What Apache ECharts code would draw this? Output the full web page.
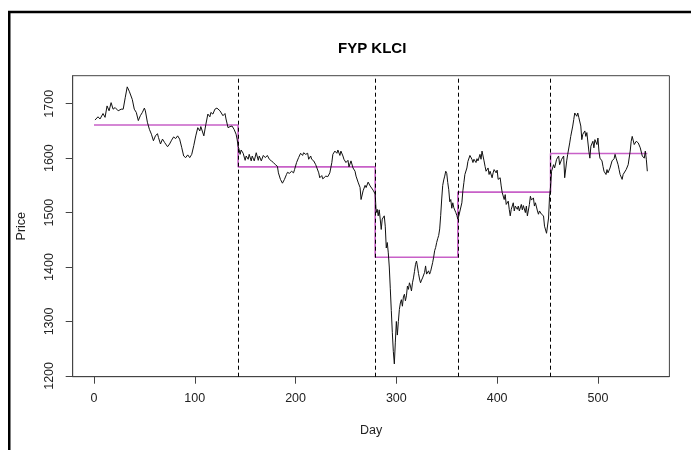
<!DOCTYPE html>
<html>
<head>
<meta charset="utf-8">
<script src="https://cdn.jsdelivr.net/npm/echarts@6/dist/echarts.min.js"></script>
<style>
html,body{margin:0;padding:0;background:#fff;}
#chart{width:691px;height:450px;}
</style>
</head>
<body>
<div id="chart"></div>
<script>
// ---- data ----
const titleText = 'FYP KLCI';
const xName = 'Day';
const yName = 'Price';
const xTicks = [0, 100, 200, 300, 400, 500];
const yTicks = [1200, 1300, 1400, 1500, 1600, 1700];
const breakDays = [143, 279, 361, 453];
const segStart = [0, 143, 279, 361, 453];
const segEnd = [143, 279, 361, 453, 549];
const segMeans = [1661, 1584, 1418, 1537.6, 1608.6];

const seg1 = [[1,1670],[4,1676],[6,1672],[9,1682],[11,1675],[13,1696],[15,1687],[17,1702],[19,1690],[21,1693],[24,1687],[27,1690],[29,1690],[31,1711],[33,1731],[35,1723],[38,1708],[40,1690],[42,1684],[44,1669],[46,1678],[48,1684],[50,1692],[51,1687],[53,1666],[55,1653],[57,1644],[59,1632],[61,1641],[63,1645],[64,1638],[66,1626],[68,1635],[70,1629],[73,1621],[75,1626],[77,1633],[79,1639],[81,1636],[83,1641],[85,1635],[87,1620],[89,1604],[91,1601],[93,1606],[95,1601],[97,1607],[99,1623],[101,1641],[103,1656],[105,1650],[106,1658],[109,1641],[111,1662],[113,1681],[115,1676],[116,1684],[118,1681],[120,1690],[122,1692],[125,1687],[126,1686],[128,1678],[130,1682],[131,1672],[133,1656],[135,1658],[137,1659],[139,1653],[141,1644],[142,1635]];
const seg2 = [[143,1622],[144,1616],[145,1607],[146,1615],[148,1609],[150,1596],[151,1604],[153,1598],[154,1607],[156,1595],[157,1604],[159,1595],[161,1610],[163,1596],[164,1604],[166,1595],[168,1605],[170,1601],[172,1605],[174,1598],[176,1595],[178,1592],[180,1588],[182,1585],[183,1573],[185,1561],[187,1554],[189,1561],[191,1570],[192,1574],[194,1572],[196,1576],[198,1573],[199,1579],[201,1592],[203,1601],[205,1609],[207,1605],[208,1610],[210,1607],[212,1609],[213,1598],[215,1604],[216,1598],[218,1595],[220,1588],[221,1585],[223,1573],[224,1564],[226,1568],[227,1562],[230,1567],[232,1566],[234,1573],[236,1592],[237,1607],[239,1613],[241,1609],[242,1615],[244,1605],[245,1613],[247,1604],[248,1598],[250,1592],[252,1596],[253,1584],[255,1595],[257,1582],[259,1576],[260,1567],[262,1556],[264,1546],[265,1524],[267,1540],[269,1550],[270,1546],[272,1556],[274,1549],[275,1546],[277,1541],[279,1534]];
const seg3 = [[280,1500],[281,1506],[282,1494],[283,1505],[284,1488],[285,1469],[286,1488],[288,1494],[289,1475],[290,1435],[291,1445],[292,1426],[293,1400],[294,1360],[295,1320],[296,1280],[297,1245],[298,1222],[299,1262],[300,1300],[301,1275],[302,1300],[303,1322],[304,1334],[305,1340],[306,1328],[307,1345],[308,1350],[309,1338],[310,1347],[311,1365],[312,1359],[313,1371],[314,1365],[315,1356],[316,1371],[317,1380],[318,1392],[319,1405],[320,1411],[321,1400],[322,1388],[323,1378],[324,1371],[325,1376],[326,1380],[327,1381],[328,1390],[329,1402],[330,1387],[331,1384],[332,1393],[333,1387],[334,1392],[335,1400],[336,1408],[337,1418],[338,1430],[339,1436],[340,1445],[341,1452],[342,1458],[343,1470],[344,1495],[345,1525],[346,1550],[347,1560],[348,1567],[349,1576],[350,1572],[351,1555],[352,1542],[353,1520],[354,1524],[355,1508],[356,1518],[357,1509],[358,1512],[359,1500],[360,1495],[361,1488]];
const seg4 = [[362,1494],[363,1497],[365,1518],[366,1540],[367,1555],[368,1570],[370,1582],[371,1594],[373,1605],[375,1598],[376,1592],[377,1598],[379,1592],[380,1599],[381,1595],[383,1607],[384,1598],[385,1613],[387,1595],[388,1585],[389,1576],[391,1582],[392,1570],[393,1576],[395,1564],[396,1573],[397,1579],[399,1573],[400,1578],[401,1561],[403,1564],[404,1549],[405,1537],[407,1524],[408,1533],[409,1515],[411,1521],[412,1506],[413,1494],[414,1506],[416,1518],[417,1503],[418,1512],[420,1506],[421,1512],[422,1503],[424,1515],[425,1505],[426,1513],[428,1500],[429,1512],[430,1494],[432,1515],[433,1530],[434,1523],[436,1527],[437,1512],[438,1518],[440,1503],[441,1497],[442,1503],[444,1497],[445,1500],[446,1494],[447,1475],[448,1472],[449,1462],[450,1465],[451,1490],[452,1530],[453,1548]];
const seg5 = [[454,1576],[456,1588],[457,1582],[459,1598],[461,1604],[462,1588],[464,1598],[466,1604],[467,1564],[469,1595],[470,1607],[472,1628],[473,1640],[475,1659],[476,1671],[477,1683],[479,1677],[480,1683],[481,1675],[483,1659],[484,1634],[485,1644],[487,1650],[488,1640],[489,1647],[491,1613],[492,1600],[493,1622],[495,1631],[496,1619],[497,1634],[499,1625],[500,1637],[501,1613],[502,1600],[504,1595],[505,1585],[506,1576],[508,1570],[509,1579],[510,1573],[512,1582],[513,1585],[514,1595],[516,1599],[517,1607],[518,1600],[520,1588],[521,1579],[522,1570],[524,1561],[525,1570],[526,1567],[528,1579],[529,1576],[530,1588],[532,1613],[533,1631],[534,1640],[536,1625],[537,1622],[538,1631],[540,1628],[541,1625],[542,1619],[544,1604],[545,1607],[546,1600],[547,1613],[548,1598],[549,1576]];

// ---- build ----
const priceData = seg1.concat(seg2, seg3, seg4, seg5);
const meanData = [];
for (let i = 0; i < segMeans.length; i++) {
  meanData.push([segStart[i], segMeans[i]]);
  meanData.push([segEnd[i], segMeans[i]]);
}
const FONT = "'Liberation Sans', Arial, Helvetica, sans-serif";
const axisCol = '#444';
const textCol = '#222';
const plain = v => String(v);

const chart = echarts.init(document.getElementById('chart'), null, {renderer: 'canvas'});
chart.setOption({
  animation: false,
  backgroundColor: '#fff',
  title: {
    text: titleText,
    left: 333,
    top: 36,
    textStyle: {fontFamily: FONT, fontSize: 15, fontWeight: 'bold', color: '#000'}
  },
  graphic: [{
    type: 'rect',
    shape: {x: 9.25, y: 12, width: 900, height: 700},
    style: {fill: 'none', stroke: '#000', lineWidth: 2.5},
    silent: true
  }],
  grid: {
    left: 72.7, top: 75.7, width: 596.7, height: 301,
    show: true, borderColor: axisCol, borderWidth: 1, backgroundColor: 'transparent',
    outerBoundsMode: 'none'
  },
  xAxis: {
    type: 'value',
    min: -21.1, max: 570.9,
    name: xName, nameLocation: 'middle', nameGap: 47,
    nameTextStyle: {fontFamily: FONT, fontSize: 12.5, color: textCol},
    axisLine: {show: true, onZero: false, lineStyle: {color: axisCol, width: 1}},
    axisTick: {show: true, length: 7, lineStyle: {color: axisCol, width: 1}, customValues: xTicks},
    axisLabel: {fontFamily: FONT, fontSize: 12.5, color: textCol, margin: 15, customValues: xTicks,
                formatter: plain, showMinLabel: true, showMaxLabel: true},
    splitLine: {show: false}
  },
  yAxis: {
    type: 'value',
    min: 1198.5, max: 1751.5,
    name: yName, nameLocation: 'middle', nameGap: 45,
    nameTextStyle: {fontFamily: FONT, fontSize: 12.5, color: textCol},
    axisLine: {show: true, onZero: false, lineStyle: {color: axisCol, width: 1}},
    axisTick: {show: true, length: 7, lineStyle: {color: axisCol, width: 1}, customValues: yTicks},
    axisLabel: {fontFamily: FONT, fontSize: 12.5, color: textCol, margin: 17, rotate: 90, customValues: yTicks,
                formatter: plain, showMinLabel: true, showMaxLabel: true},
    splitLine: {show: false}
  },
  series: [
    {
      type: 'line',
      data: priceData,
      showSymbol: false,
      symbol: 'none',
      lineStyle: {color: '#111', width: 1},
      z: 3,
      markLine: {
        silent: true,
        symbol: ['none', 'none'],
        label: {show: false},
        lineStyle: {color: '#000', width: 1, type: [4, 3]},
        data: breakDays.map(d => ({xAxis: d}))
      }
    },
    {
      type: 'line',
      data: meanData,
      showSymbol: false,
      symbol: 'none',
      lineStyle: {color: '#C860C8', width: 1.6},
      z: 2
    }
  ]
});
</script>
</body>
</html>
